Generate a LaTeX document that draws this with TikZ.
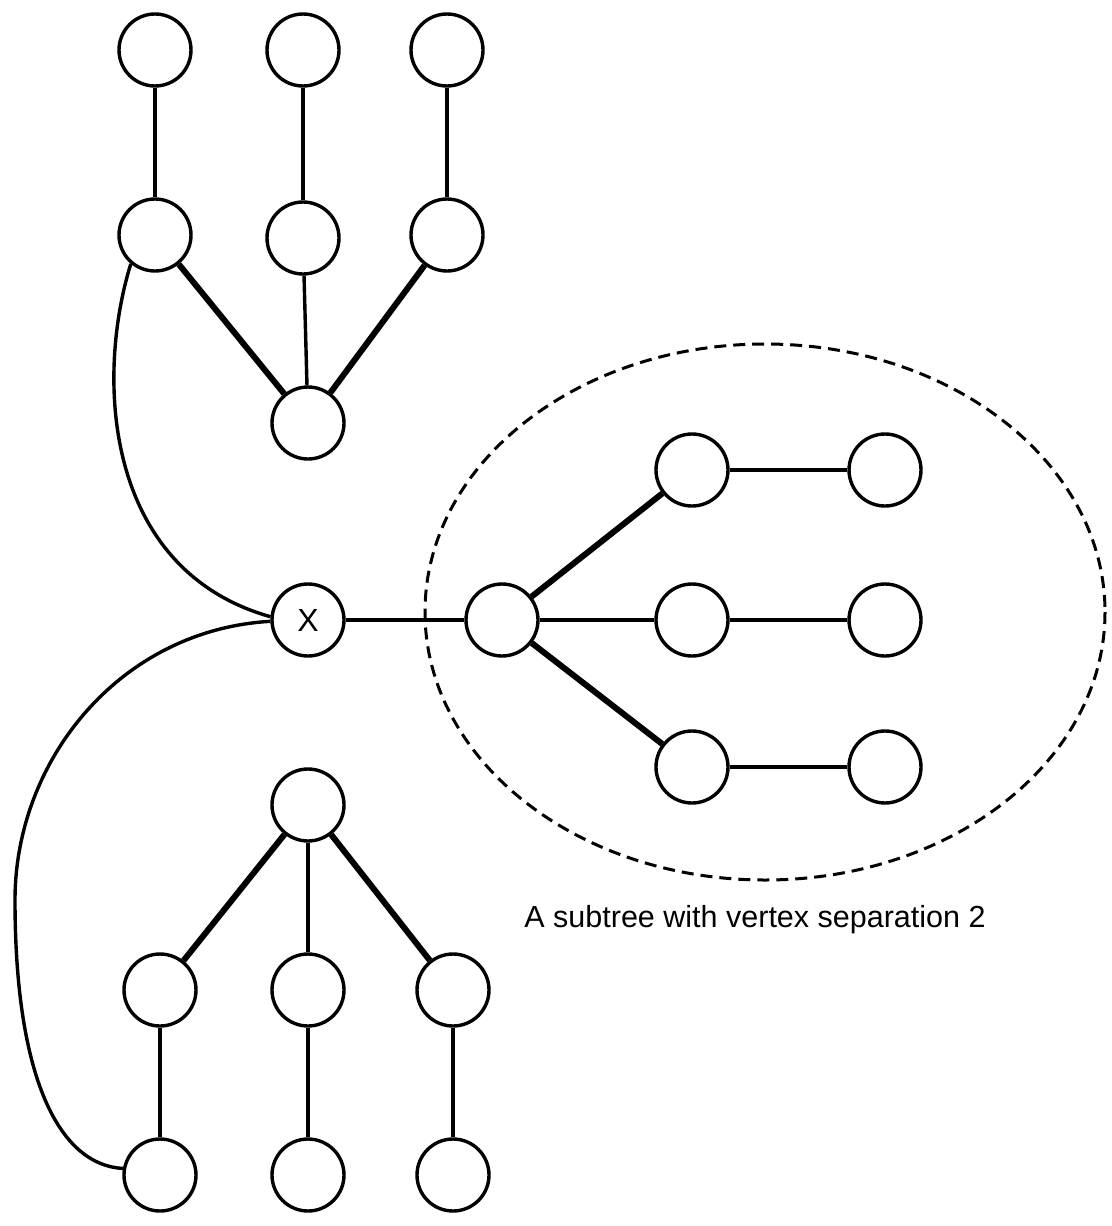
\documentclass[tikz,border=0pt]{standalone}
\usepackage{fontspec}
\setmainfont{Liberation Sans}
\begin{document}
\begin{tikzpicture}[x=1pt,y=-1pt,
  vtx/.style={circle,draw,line width=3.4pt,minimum size=72pt,inner sep=0pt},
  thin/.style={line width=3.4pt},
  thick/.style={line width=6pt}]
\useasboundingbox (0,0) rectangle (1111,1226);
% top tree
\node[vtx] (t1) at (155,50) {};
\node[vtx] (t2) at (303,50) {};
\node[vtx] (t3) at (447,50) {};
\node[vtx] (m1) at (155,235) {};
\node[vtx] (m2) at (303,238) {};
\node[vtx] (m3) at (447,235) {};
\node[vtx] (tr) at (308,423) {};
% X
\node[vtx,font=\fontsize{32}{34}\selectfont] (x) at (308,620) {X};
% subtree
\node[vtx] (r) at (502,620) {};
\node[vtx] (a1) at (692,470) {};
\node[vtx] (a2) at (885,470) {};
\node[vtx] (b1) at (692,620) {};
\node[vtx] (b2) at (885,620) {};
\node[vtx] (c1) at (692,767) {};
\node[vtx] (c2) at (885,767) {};
% bottom tree
\node[vtx] (br) at (308,805) {};
\node[vtx] (d1) at (160,990) {};
\node[vtx] (d2) at (308,990) {};
\node[vtx] (d3) at (453,990) {};
\node[vtx] (e1) at (160,1175) {};
\node[vtx] (e2) at (308,1175) {};
\node[vtx] (e3) at (453,1175) {};
% edges
\draw[thin] (t1) -- (m1);
\draw[thin] (t2) -- (m2);
\draw[thin] (t3) -- (m3);
\draw[thick] (m1) -- (tr);
\draw[thin] (m2) -- (tr);
\draw[thick] (m3) -- (tr);
\draw[thin] (x) -- (r);
\draw[thick] (r) -- (a1);
\draw[thin] (r) -- (b1);
\draw[thick] (r) -- (c1);
\draw[thin] (a1) -- (a2);
\draw[thin] (b1) -- (b2);
\draw[thin] (c1) -- (c2);
\draw[thick] (br) -- (d1);
\draw[thin] (br) -- (d2);
\draw[thick] (br) -- (d3);
\draw[thin] (d1) -- (e1);
\draw[thin] (d2) -- (e2);
\draw[thin] (d3) -- (e3);
% curves
\draw[thin] (m1.-130) .. controls (95,380) and (105,570) .. (x.175);
\draw[thin] (x.182) .. controls (120,630) and (15,760) .. (15,900)
  .. controls (15,1080) and (60,1165) .. (e1.170);
% dashed ellipse
\draw[line width=3pt,dash pattern=on 12pt off 7pt] (765,612) ellipse [x radius=340, y radius=268];
% label
\node[font=\fontsize{30.5}{34}\selectfont] (lbl) at (755,920) {A subtree with vertex separation 2};
\end{tikzpicture}
\end{document}
